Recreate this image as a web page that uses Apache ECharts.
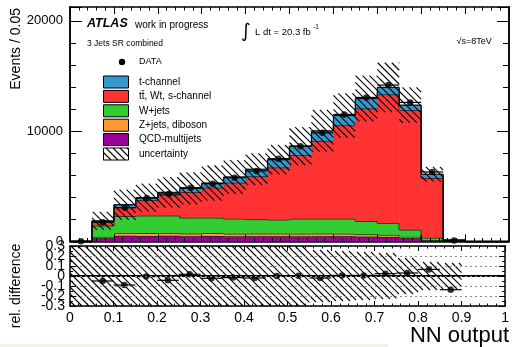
<!DOCTYPE html>
<html>
<head>
<meta charset="utf-8">
<script src="https://cdn.jsdelivr.net/npm/echarts@6/dist/echarts.min.js"></script>
<style>
  html, body { margin: 0; padding: 0; background: #fff; }
  #chart { width: 512px; height: 347px; }
</style>
</head>
<body>
<div id="chart"></div>
<script>
  // NN output, 20 bins of width 0.05
  const binLow = [0, 0.05, 0.1, 0.15, 0.2, 0.25, 0.3, 0.35, 0.4, 0.45, 0.5, 0.55, 0.6, 0.65, 0.7, 0.75, 0.8, 0.85, 0.9, 0.95]
  const binWidth = 0.05

  // stacked backgrounds / signal (events per bin)
  const qcd = [0, 300, 520, 500, 520, 480, 500, 470, 480, 480, 470, 480, 480, 440, 420, 300, 80, 20, 0, 0]
  const zjets = [0, 120, 250, 240, 250, 230, 240, 230, 230, 230, 230, 230, 220, 200, 180, 130, 40, 10, 0, 0]
  const wjets = [0, 1010, 1530, 1600, 1570, 1440, 1410, 1360, 1290, 1260, 1360, 1350, 1360, 1210, 1060, 630, 210, 30, 0, 0]
  const ttbar = [0, 390, 820, 1390, 1900, 2330, 2730, 3270, 3900, 4730, 5760, 7060, 8460, 10210, 11670, 10850, 5430, 60, 0, 0]
  const tchan = [0, 50, 220, 240, 210, 340, 420, 520, 650, 720, 820, 910, 910, 910, 640, 450, 330, 10, 0, 0]
  const dataVals = [30, 1750, 3060, 3940, 4300, 4880, 5240, 5790, 6390, 7510, 8640, 9850, 11520, 13060, 14180, 12610, 6300, 100, null, null]

  // relative uncertainty of the prediction (main pad) and band in the ratio pad
  const uncMain = [0, 0.44, 0.41, 0.32, 0.31, 0.3, 0.3, 0.26, 0.22, 0.18, 0.2, 0.19, 0.175, 0.16, 0.16, 0.13, 0.11, 0.12, 0, 0]
  const ratioUnc = [0.35, 0.35, 0.35, 0.35, 0.35, 0.35, 0.35, 0.35, 0.35, 0.33, 0.3, 0.26, 0.25, 0.24, 0.23, 0.18, 0.14, 0.13, 0, 0]
  const ratioVals = [null, -0.05, -0.09, -0.006, -0.043, 0.017, -0.023, -0.016, -0.02, 0.0, 0.003, -0.02, 0.006, 0.006, 0.023, 0.03, 0.066, -0.137, null, null]

  const mainTicks = [0, 10000, 20000]
  const ratioTicksA = [-0.3, -0.1, 0, 0.1, 0.3]
  const ratioTicksB = [-0.2, 0.2]
  const yMax = 21260

  const components = [
    { name: 'QCD-multijets', color: '#990099', values: qcd },
    { name: 'Z+jets, diboson', color: '#ff9933', values: zjets },
    { name: 'W+jets', color: '#33cc33', values: wjets },
    { name: 'tt\u0304, Wt, s-channel', color: '#ff3333', values: ttbar },
    { name: 't-channel', color: '#3399cc', values: tchan }
  ]

  const FONT = '"Liberation Sans", Arial, sans-serif'
  const hatchStep = 7

  // diagonal "\\\\" hatching clipped to a pixel rect
  function hatchLines(x0, y0, x1, y1) {
    const out = []
    for (let c = Math.ceil((x0 - y1) / hatchStep) * hatchStep; c <= x1 - y0; c += hatchStep) {
      const ya = Math.max(y0, x0 - c)
      const yb = Math.min(y1, x1 - c)
      if (yb > ya) {
        out.push({ type: 'line', silent: true, shape: { x1: ya + c, y1: ya, x2: yb + c, y2: yb }, style: { stroke: '#000', lineWidth: 1.1 } })
      }
    }
    return out
  }

  function stackRender(color) {
    return function (params, api) {
      const lo = api.value(0), hi = api.value(1), base = api.value(2), top = api.value(3), prev = api.value(4)
      const a = api.coord([lo, top])
      const b = api.coord([hi, base])
      const children = []
      if (top > base) {
        children.push({ type: 'rect', shape: { x: a[0], y: a[1], width: b[0] - a[0] + 0.6, height: b[1] - a[1] }, style: { fill: color } })
      }
      children.push({ type: 'line', shape: { x1: a[0], y1: a[1], x2: b[0], y2: a[1] }, style: { stroke: '#111', lineWidth: 1.3 } })
      if (prev !== top) {
        const p = api.coord([lo, prev])
        children.push({ type: 'line', shape: { x1: a[0], y1: p[1], x2: a[0], y2: a[1] }, style: { stroke: '#111', lineWidth: 1.3 } })
      }
      return { type: 'group', children: children }
    }
  }

  function bandRender(lim) {
    return function (params, api) {
      const lo = api.value(0), hi = api.value(1)
      const low = Math.max(lim[0], api.value(2))
      const high = Math.min(lim[1], api.value(3))
      if (!(high > low)) return { type: 'group', children: [] }
      const a = api.coord([lo, high])
      const b = api.coord([hi, low])
      return { type: 'group', children: hatchLines(a[0], a[1], b[0], b[1]) }
    }
  }

  function xerrRender(params, api) {
    const x = api.value(0), y = api.value(1)
    const a = api.coord([x - binWidth / 2, y])
    const b = api.coord([x + binWidth / 2, y])
    return { type: 'line', shape: { x1: a[0], y1: a[1], x2: b[0], y2: b[1] }, style: { stroke: '#000', lineWidth: 1.2 } }
  }

  const series = []
  let base = binLow.map(() => 0)
  components.forEach(comp => {
    const top = base.map((b, i) => b + comp.values[i])
    const data = binLow.map((lo, i) => [lo, lo + binWidth, base[i], top[i], i > 0 ? top[i - 1] : 0])
    series.push({ type: 'custom', name: comp.name, xAxisIndex: 0, yAxisIndex: 0, z: 2, silent: true, renderItem: stackRender(comp.color), data: data })
    base = top
  })
  const total = base

  series.push({
    type: 'custom', name: 'uncertainty', xAxisIndex: 0, yAxisIndex: 0, z: 3, silent: true,
    renderItem: bandRender([0, yMax]),
    data: binLow.map((lo, i) => [lo, lo + binWidth, total[i] * (1 - uncMain[i]), total[i] * (1 + uncMain[i])])
  })

  const dataPts = binLow.map((lo, i) => [lo + binWidth / 2, dataVals[i]]).filter(d => d[1] !== null)
  series.push({ type: 'custom', name: 'data-err', xAxisIndex: 0, yAxisIndex: 0, z: 4, silent: true, renderItem: xerrRender, data: dataPts })
  series.push({ type: 'scatter', name: 'DATA', xAxisIndex: 0, yAxisIndex: 0, z: 5, symbol: 'circle', symbolSize: 6.5, itemStyle: { color: '#000' }, data: dataPts })

  // ratio pad
  series.push({
    type: 'custom', name: 'ratio-band', xAxisIndex: 2, yAxisIndex: 4, z: 3, silent: true,
    renderItem: bandRender([-0.3, 0.3]),
    data: binLow.map((lo, i) => [lo, lo + binWidth, -ratioUnc[i], ratioUnc[i]])
  })
  const ratioPts = binLow.map((lo, i) => [lo + binWidth / 2, ratioVals[i]]).filter(d => d[1] !== null)
  series.push({ type: 'custom', name: 'ratio-err', xAxisIndex: 2, yAxisIndex: 4, z: 4, silent: true, renderItem: xerrRender, data: ratioPts })
  series.push({
    type: 'scatter', name: 'ratio', xAxisIndex: 2, yAxisIndex: 4, z: 5, symbol: 'circle', symbolSize: 6.5, itemStyle: { color: '#000' }, data: ratioPts,
    markLine: { silent: true, symbol: 'none', label: { show: false }, lineStyle: { color: '#000', width: 2, type: 'solid' }, data: [{ yAxis: 0 }] }
  })

  const frame = { show: true, onZero: false, lineStyle: { color: '#000', width: 1.5 } }

  function xAx(grid, pos, showLabel, len) {
    return {
      type: 'value', gridIndex: grid, position: pos, min: 0, max: 1, interval: 0.1, z: 6,
      axisLine: frame,
      axisTick: { show: true, inside: true, length: len, lineStyle: { color: '#000' } },
      minorTick: { show: true, splitNumber: 5, length: len / 2, lineStyle: { color: '#000' } },
      splitLine: { show: false },
      axisLabel: {
        show: showLabel, color: '#000', fontSize: 14, fontFamily: FONT, margin: 5,
        showMinLabel: true, showMaxLabel: true, hideOverlap: false,
        formatter: v => String(Math.round(v * 10) / 10)
      }
    }
  }

  function yMainAx(pos, interval, len, showLabel) {
    return {
      type: 'value', gridIndex: 0, position: pos, min: 0, max: yMax, interval: interval, z: 6,
      axisLine: frame,
      axisTick: { show: true, inside: true, length: len, lineStyle: { color: '#000' } },
      splitLine: { show: false },
      axisLabel: {
        show: showLabel, color: '#000', fontSize: 13, fontFamily: FONT, margin: 7, showMaxLabel: false, hideOverlap: false,
        formatter: v => (mainTicks.indexOf(v) >= 0 ? String(v) : '')
      }
    }
  }

  // ratio axis; labels split over two overlaid axes so none gets dropped
  function yRatioAx(pos, showLabel, labelSet, plain) {
    return {
      type: 'value', gridIndex: 1, position: pos, min: -0.3, max: 0.3, interval: 0.1, z: 6,
      axisLine: plain ? { show: false, onZero: false } : frame,
      axisTick: { show: !plain, inside: true, length: 6, lineStyle: { color: '#000' } },
      minorTick: { show: !plain, splitNumber: 2, length: 3, lineStyle: { color: '#000' } },
      splitLine: { show: showLabel && !plain, lineStyle: { color: '#888', type: [2, 3], width: 1 } },
      axisLabel: {
        show: showLabel, color: '#000', fontSize: 14, fontFamily: FONT, margin: 5,
        showMinLabel: true, showMaxLabel: true, hideOverlap: false,
        formatter: v => {
          const r = Math.round(v * 10) / 10
          return labelSet.indexOf(r) >= 0 ? String(r) : ''
        }
      }
    }
  }

  // legend + annotations as graphic elements
  const graphic = []
  function txt(x, y, text, font, align, extra) {
    graphic.push(Object.assign({
      type: 'text', x: x, y: y, z: 20, silent: true,
      style: { text: text, font: font, fill: '#000', align: align || 'left', verticalAlign: 'middle', textAlign: align || 'left', textVerticalAlign: 'middle' }
    }, extra || {}))
  }
  txt(16, 8, 'Events / 0.05', '14px ' + FONT, 'right', { rotation: Math.PI / 2 })
  txt(16.5, 286, 'rel. difference', '14px ' + FONT, 'center', { rotation: Math.PI / 2 })
  txt(509, 335.5, 'NN output', '22px ' + FONT, 'right')
  txt(87, 23.5, 'ATLAS', 'italic bold 12.5px ' + FONT)
  txt(135, 25, 'work in progress', '10px ' + FONT)
  txt(87, 43.5, '3 Jets SR combined', '8.5px ' + FONT)
  txt(246, 32, '\u222B', '19px "DejaVu Sans"', 'center')
  txt(255, 32.5, 'L dt = 20.3 fb', '9.5px ' + FONT)
  txt(313, 27, '-1', '6.5px ' + FONT)
  txt(456.5, 41.7, '\u221As=8TeV', '9px ' + FONT)

  graphic.push({ type: 'circle', z: 20, silent: true, shape: { cx: 122, cy: 62, r: 3.2 }, style: { fill: '#000' } })
  txt(139, 62, 'DATA', '9px ' + FONT)
  const legendRows = components.slice().reverse()
  legendRows.forEach((comp, k) => {
    const cy = 82 + k * 14.4
    graphic.push({ type: 'rect', z: 20, silent: true, shape: { x: 103.5, y: cy - 6, width: 25, height: 12 }, style: { fill: comp.color, stroke: '#000', lineWidth: 1 } })
    txt(139, cy, comp.name, '10px ' + FONT)
  })
  const ucy = 82 + 5 * 14.4
  graphic.push({ type: 'rect', z: 20, silent: true, shape: { x: 103.5, y: ucy - 6, width: 25, height: 12 }, style: { fill: '#fff', stroke: '#000', lineWidth: 1 } })
  hatchLines(103.5, ucy - 6, 128.5, ucy + 6).forEach(l => { l.z = 21; graphic.push(l) })
  txt(139, ucy, 'uncertainty', '10px ' + FONT)
  graphic.push({ type: 'rect', z: 0, silent: true, shape: { x: 0, y: 344, width: 388, height: 3 }, style: { fill: '#eef5e3' } })

  const chart = echarts.init(document.getElementById('chart'))
  chart.setOption({
    animation: false,
    backgroundColor: '#fff',
    textStyle: { fontFamily: FONT },
    grid: [
      { left: 70, top: 7, width: 439, height: 234.5 },
      { left: 70, top: 246, width: 439, height: 60 }
    ],
    xAxis: [
      xAx(0, 'bottom', false, 7),
      xAx(0, 'top', false, 7),
      xAx(1, 'bottom', true, 5),
      xAx(1, 'top', false, 5)
    ],
    yAxis: [
      yMainAx('left', 2000, 6, true),
      yMainAx('left', 10000, 12, false),
      yMainAx('right', 2000, 6, false),
      yMainAx('right', 10000, 12, false),
      yRatioAx('left', true, ratioTicksA, false),
      yRatioAx('right', false, [], false),
      yRatioAx('left', true, ratioTicksB, true)
    ],
    graphic: graphic,
    series: series
  })
</script>
</body>
</html>
